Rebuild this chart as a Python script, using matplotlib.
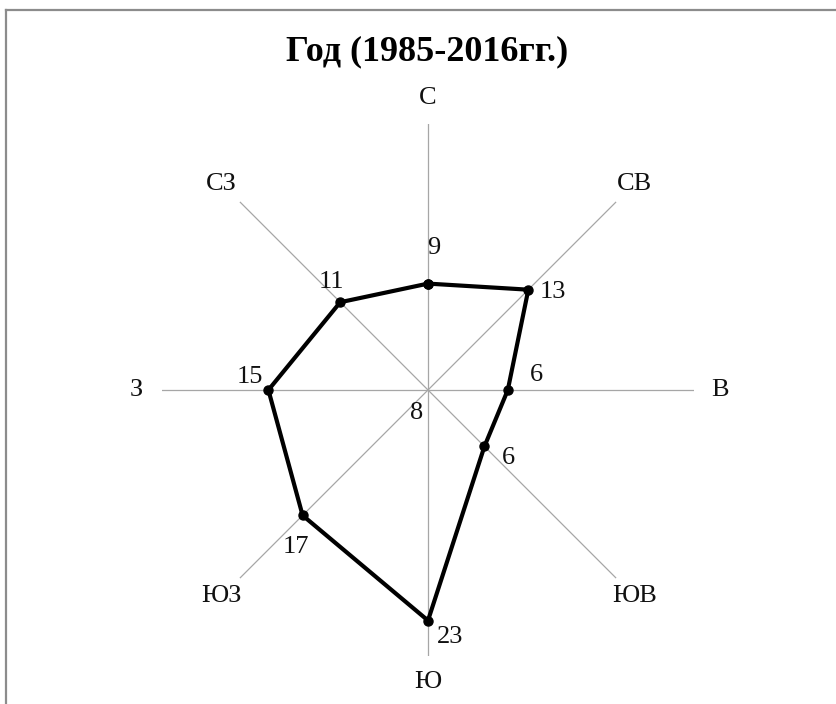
import numpy as np
import matplotlib
matplotlib.use('Agg')
import matplotlib.pyplot as plt
from matplotlib.lines import Line2D

# --- datos: rosa de vientos, frecuencia (%) por rumbo ---
directions = ['С', 'СВ', 'В', 'ЮВ', 'Ю', 'ЮЗ', 'З', 'СЗ']
frequency = [9, 13, 6, 6, 23, 17, 15, 11]
calm = 8
title = 'Год (1985-2016гг.)'

# desplazamiento de cada etiqueta de valor (pixeles)
label_offsets = [(6, 36), (25, -2), (29, 15), (24, -12), (22, -16), (-7, -32), (-19, 13), (-9, 20)]

plt.rcParams['font.family'] = ['Liberation Serif', 'DejaVu Serif']

fig = plt.figure(figsize=(8.37, 7.04), dpi=100)
ax = fig.add_axes([162 / 837, 48 / 704, 532 / 837, 532 / 704], projection='polar')
ax.set_theta_zero_location('N')
ax.set_theta_direction(-1)
ax.set_rlim(-3, 27)
ax.grid(False)
ax.spines['polar'].set_visible(False)
ax.set_xticks([])
ax.set_yticks([])
ax.patch.set_alpha(0)

angles = np.deg2rad(np.arange(len(directions)) * 360 / len(directions))

# ejes radiales
for a in angles:
    ax.plot([a, a], [-3, 27], color='#a6a6a6', lw=0.9, zorder=1)

# nombres de rumbos
for a, name in zip(angles, directions):
    ax.text(a, 29.9, name, ha='center', va='center', fontsize=19, color='#111111')

# poligono
closed_a = np.append(angles, angles[0])
closed_v = np.append(frequency, frequency[0])
ax.plot(closed_a, closed_v, color='black', lw=3, marker='o', markersize=6.5, zorder=3)

for a, v, off in zip(angles, frequency, label_offsets):
    ax.annotate(str(v), (a, v), xytext=off, textcoords='offset pixels',
                ha='center', va='center', fontsize=19, color='#111111')

# calma en el centro
ax.annotate(str(calm), (0, -3), xytext=(-11, -23), textcoords='offset pixels',
            ha='center', va='center', fontsize=19, color='#111111')

fig.text(427 / 837, 1 - 52 / 704, title, ha='center', va='center',
         fontsize=26, fontweight='bold')

# marco del grafico
fig.add_artist(Line2D([6 / 837, 6 / 837], [0, 1 - 10 / 704], color='#8c8c8c', lw=1.6))
fig.add_artist(Line2D([6 / 837, 1], [1 - 10 / 704, 1 - 10 / 704], color='#8c8c8c', lw=1.6))

fig.savefig('out.png', dpi=100)
